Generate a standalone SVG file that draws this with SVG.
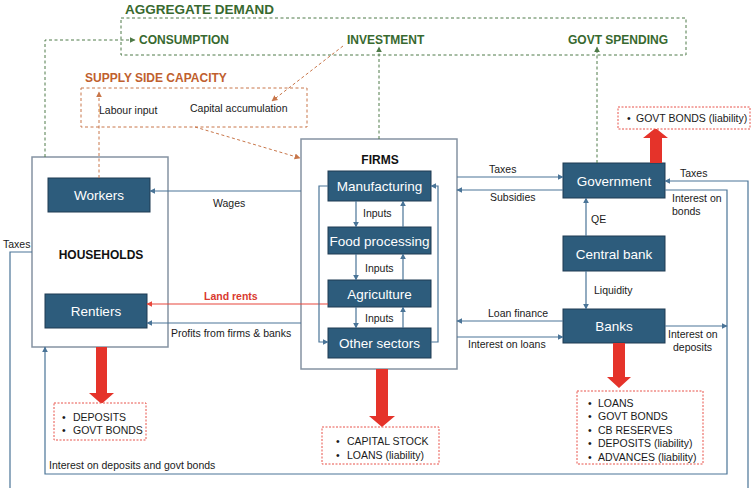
<svg xmlns="http://www.w3.org/2000/svg" width="751" height="488" viewBox="0 0 751 488">
  <defs>
    <style>
      text { font-family: "Liberation Sans", Arial, sans-serif; }
      .lbl { font-size: 10.5px; fill: #1a1a1a; }
      .node rect.box { fill: #2D5C7C; stroke: #1E3A52; stroke-width: 1; }
      .node text { font-size: 13.5px; fill: #ffffff; text-anchor: middle; }
      .sector { fill: #ffffff; stroke: #8593A2; stroke-width: 1.5; }
      .sector-title { font-size: 12px; font-weight: bold; fill: #111; text-anchor: middle; }
      .flow { fill: none; stroke: #4A7497; stroke-width: 1.2; marker-end: url(#ah-blue); }
      .flow-plain { fill: none; stroke: #4A7497; stroke-width: 1.2; }
      .rent { fill: none; stroke: #E8473C; stroke-width: 1.2; marker-end: url(#ah-red); }
      .demand { fill: none; stroke: #4E7A48; stroke-width: 1; stroke-dasharray: 3 2.5; }
      .demand-arrow { fill: none; stroke: #4E7A48; stroke-width: 1; stroke-dasharray: 3 2.5; marker-end: url(#ah-green); }
      .supply { fill: none; stroke: #C8764A; stroke-width: 1; stroke-dasharray: 3 2.5; }
      .supply-arrow { fill: none; stroke: #C8764A; stroke-width: 1; stroke-dasharray: 3 2.5; marker-end: url(#ah-orange); }
      .green-title { font-weight: bold; fill: #38692F; }
      .orange-title { font-weight: bold; fill: #C0602E; }
      .stock { fill: #ffffff; stroke: #E8534A; stroke-width: 1; stroke-dasharray: 2 1.5; }
      .bigarrow { fill: #E5332A; }
      .item { font-size: 10.5px; fill: #1a1a1a; }
    </style>
    <marker id="ah-blue" viewBox="0 0 10 10" refX="9" refY="5" markerWidth="6" markerHeight="6" markerUnits="userSpaceOnUse" orient="auto">
      <path d="M0,0 L10,5 L0,10 z" fill="#4A7497"/>
    </marker>
    <marker id="ah-red" viewBox="0 0 10 10" refX="9" refY="5" markerWidth="6" markerHeight="6" markerUnits="userSpaceOnUse" orient="auto">
      <path d="M0,0 L10,5 L0,10 z" fill="#E8473C"/>
    </marker>
    <marker id="ah-green" viewBox="0 0 10 10" refX="9" refY="5" markerWidth="6" markerHeight="6" markerUnits="userSpaceOnUse" orient="auto">
      <path d="M0,0 L10,5 L0,10 z" fill="#4E7A48"/>
    </marker>
    <marker id="ah-orange" viewBox="0 0 10 10" refX="9" refY="5" markerWidth="6" markerHeight="6" markerUnits="userSpaceOnUse" orient="auto">
      <path d="M0,0 L10,5 L0,10 z" fill="#C8764A"/>
    </marker>
  </defs>

  <rect width="751" height="488" fill="#ffffff"/>

  <!-- Aggregate demand panel -->
  <g id="aggregate-demand">
    <text class="green-title" x="125" y="14" font-size="13.5">AGGREGATE DEMAND</text>
    <rect class="demand" x="121" y="18" width="565" height="37"/>
    <text class="green-title" x="139" y="44" font-size="12">CONSUMPTION</text>
    <text class="green-title" x="347" y="44" font-size="12">INVESTMENT</text>
    <text class="green-title" x="568" y="44" font-size="12">GOVT SPENDING</text>
  </g>

  <!-- Supply side panel -->
  <g id="supply-side">
    <text class="orange-title" x="85" y="82" font-size="12">SUPPLY SIDE CAPACITY</text>
    <rect class="supply" x="81" y="88" width="226" height="39"/>
    <text class="lbl" x="99" y="114">Labour input</text>
    <text class="lbl" x="190" y="112">Capital accumulation</text>
  </g>

  <!-- Households sector -->
  <g id="households">
    <rect class="sector" x="32" y="157" width="136" height="190"/>
    <text class="sector-title" x="101" y="259">HOUSEHOLDS</text>
  </g>
  <g id="workers" class="node">
    <rect class="box" x="48" y="178" width="102" height="34"/>
    <text x="99" y="200">Workers</text>
  </g>
  <g id="rentiers" class="node">
    <rect class="box" x="45" y="294" width="102" height="34"/>
    <text x="96" y="316">Rentiers</text>
  </g>

  <!-- Firms sector -->
  <g id="firms">
    <rect class="sector" x="301" y="139" width="156" height="230"/>
    <text class="sector-title" x="380" y="164">FIRMS</text>
  </g>
  <g id="manufacturing" class="node">
    <rect class="box" x="328" y="171" width="103" height="30"/>
    <text x="379.5" y="191">Manufacturing</text>
  </g>
  <g id="food-processing" class="node">
    <rect class="box" x="328" y="227" width="103" height="27"/>
    <text x="379.5" y="245.5">Food processing</text>
  </g>
  <g id="agriculture" class="node">
    <rect class="box" x="328" y="280" width="103" height="27"/>
    <text x="379.5" y="298.5">Agriculture</text>
  </g>
  <g id="other-sectors" class="node">
    <rect class="box" x="328" y="328" width="103" height="30"/>
    <text x="379.5" y="348">Other sectors</text>
  </g>

  <!-- Public sector and banking -->
  <g id="government" class="node">
    <rect class="box" x="563" y="163" width="102" height="35"/>
    <text x="614" y="185.5">Government</text>
  </g>
  <g id="central-bank" class="node">
    <rect class="box" x="563" y="236" width="102" height="35"/>
    <text x="614" y="258.5">Central bank</text>
  </g>
  <g id="banks" class="node">
    <rect class="box" x="563" y="309" width="102" height="34"/>
    <text x="614" y="331">Banks</text>
  </g>

  <!-- Balance sheet stocks -->
  <g id="household-stocks">
    <polygon class="bigarrow" points="96,347 107,347 107,393 114,393 101.5,404 89,393 96,393"/>
    <rect class="stock" x="54" y="403" width="92" height="37"/>
    <text class="item" x="62" y="421">•</text><text class="item" x="73" y="421">DEPOSITS</text>
    <text class="item" x="62" y="434">•</text><text class="item" x="73" y="434">GOVT BONDS</text>
  </g>
  <g id="firm-stocks">
    <polygon class="bigarrow" points="376,369 388,369 388,416 395,416 382,427 369,416 376,416"/>
    <rect class="stock" x="322" y="427" width="117" height="37"/>
    <text class="item" x="336" y="445">•</text><text class="item" x="347" y="445">CAPITAL STOCK</text>
    <text class="item" x="336" y="459">•</text><text class="item" x="347" y="459">LOANS (liability)</text>
  </g>
  <g id="bank-stocks">
    <polygon class="bigarrow" points="613,343 625,343 625,377 631,377 619,388 607,377 613,377"/>
    <rect class="stock" x="577" y="391" width="126" height="73"/>
    <text class="item" x="588" y="407">•</text><text class="item" x="598" y="407">LOANS</text>
    <text class="item" x="588" y="420">•</text><text class="item" x="598" y="420">GOVT BONDS</text>
    <text class="item" x="588" y="434">•</text><text class="item" x="598" y="434">CB RESERVES</text>
    <text class="item" x="588" y="447">•</text><text class="item" x="598" y="447">DEPOSITS (liability)</text>
    <text class="item" x="588" y="461">•</text><text class="item" x="598" y="461">ADVANCES (liability)</text>
  </g>
  <g id="government-stocks">
    <polygon class="bigarrow" points="650,163 662,163 662,138 668,138 655.5,128 643,138 650,138"/>
    <rect class="stock" x="618" y="107" width="132" height="22"/>
    <text class="item" x="627" y="122">•</text><text class="item" x="636" y="122">GOVT BONDS (liability)</text>
  </g>

  <!-- Connectors -->
  <g id="connectors">
    <!-- demand links -->
    <path class="demand-arrow" d="M45,157 V40 H135"/>
    <path class="demand-arrow" d="M379,139 V47"/>
    <path class="demand-arrow" d="M597,163 V47"/>
    <!-- supply links -->
    <path class="supply-arrow" d="M99,178 V92"/>
    <path class="supply-arrow" d="M343,46 L272,101"/>
    <path class="supply-arrow" d="M195,127 L300,158"/>

    <!-- household incomes -->
    <path class="flow" d="M301,191 H150"/>
    <path class="rent" d="M328,304 H147"/>
    <path class="flow" d="M301,323 H147"/>

    <!-- inter-sector inputs -->
    <path class="flow" d="M356,201 V227"/>
    <path class="flow" d="M356,254 V280"/>
    <path class="flow" d="M356,307 V328"/>
    <path class="flow" d="M403,328 V307"/>
    <path class="flow" d="M403,280 V254"/>
    <path class="flow" d="M403,227 V201"/>
    <path class="flow" d="M328,186 H319 V342 H328"/>
    <path class="flow" d="M431,342 H438 V186 H431"/>

    <!-- firms with government and banks -->
    <path class="flow" d="M457,177 H563"/>
    <path class="flow" d="M563,190 H457"/>
    <path class="flow" d="M563,321 H457"/>
    <path class="flow" d="M457,337 H563"/>

    <!-- central bank -->
    <path class="flow" d="M586,236 V198"/>
    <path class="flow" d="M586,271 V309"/>

    <!-- taxes and interest loops -->
    <path class="flow" d="M748,488 V181 H665"/>
    <path class="flow" d="M665,190 H727 V474 H45 V347"/>
    <path class="flow" d="M665,326 H727"/>
    <path class="flow-plain" d="M32,252 H10 V488"/>
  </g>

  <!-- Flow labels -->
  <g id="flow-labels">
    <text class="lbl" x="213" y="207">Wages</text>
    <text class="lbl" x="204" y="300" font-weight="bold" fill="#D9392F" style="fill:#D9392F">Land rents</text>
    <text class="lbl" x="171" y="337">Profits from firms &amp; banks</text>
    <text class="lbl" x="363" y="217">Inputs</text>
    <text class="lbl" x="365" y="272">Inputs</text>
    <text class="lbl" x="365" y="322">Inputs</text>
    <text class="lbl" x="489" y="173">Taxes</text>
    <text class="lbl" x="490" y="201">Subsidies</text>
    <text class="lbl" x="488" y="317">Loan finance</text>
    <text class="lbl" x="468" y="348">Interest on loans</text>
    <text class="lbl" x="591" y="223">QE</text>
    <text class="lbl" x="594" y="294">Liquidity</text>
    <text class="lbl" x="680" y="177">Taxes</text>
    <text class="lbl" x="672" y="202">Interest on</text>
    <text class="lbl" x="672" y="215">bonds</text>
    <text class="lbl" x="668" y="338">Interest on</text>
    <text class="lbl" x="673" y="351">deposits</text>
    <text class="lbl" x="3" y="248">Taxes</text>
    <text class="lbl" x="49" y="469">Interest on deposits and govt bonds</text>
  </g>
</svg>
